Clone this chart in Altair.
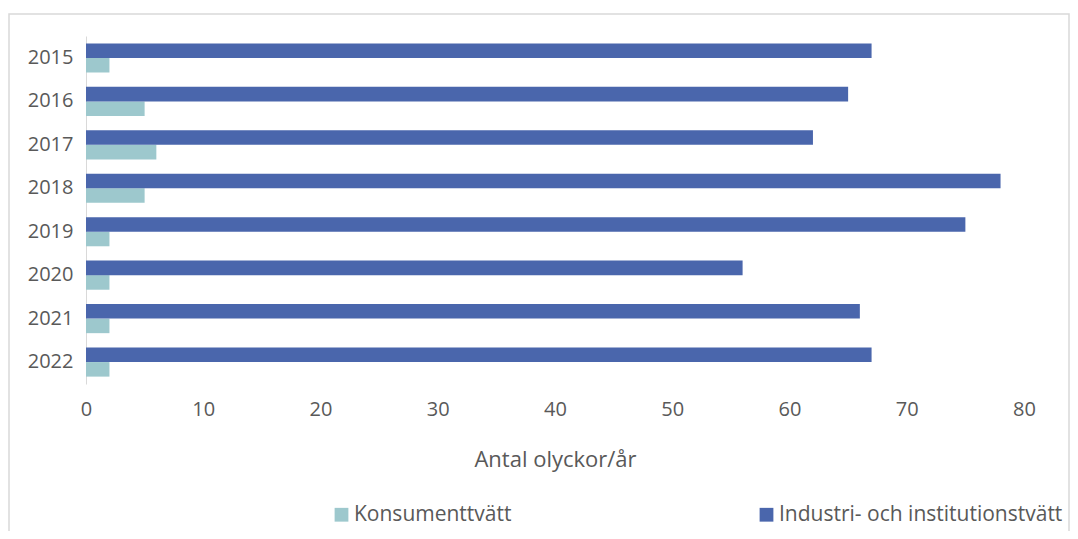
import altair as alt
import pandas as pd

years = ["2015", "2016", "2017", "2018", "2019", "2020", "2021", "2022"]
industri = [67, 65, 62, 78, 75, 56, 66, 67]
konsument = [2, 5, 6, 5, 2, 2, 2, 2]
series = ["Konsumenttvätt", "Industri- och institutionstvätt"]
colors = ["#9DC8CD", "#4A66AC"]

rows = []
for y, k, i in zip(years, konsument, industri):
    rows.append({"year": y, "serie": series[0], "value": k})
    rows.append({"year": y, "serie": series[1], "value": i})
df = pd.DataFrame(rows)

font = "Open Sans"
grey = "#595959"

bars = alt.Chart(df).mark_bar().encode(
    y=alt.Y("year:N", sort=years, title=None,
            scale=alt.Scale(paddingInner=0.33, paddingOuter=0.17),
            axis=alt.Axis(domainColor="#d9d9d9", domainWidth=1, ticks=False,
                          labelFontSize=20, labelColor=grey, labelFont=font,
                          labelPadding=13)),
    yOffset=alt.YOffset("serie:N", scale=alt.Scale(domain=[series[1], series[0]])),
    x=alt.X("value:Q", title="Antal olyckor/år",
            scale=alt.Scale(domain=[0, 80], nice=False),
            axis=alt.Axis(values=list(range(0, 81, 10)), domain=False, ticks=False,
                          grid=False, labelFlush=False, labelFontSize=20, labelColor=grey,
                          labelFont=font, labelPadding=15, titleFontSize=22,
                          titleFontWeight="normal", titleColor=grey, titleFont=font,
                          titlePadding=30)),
    color=alt.Color("serie:N", scale=alt.Scale(domain=series, range=colors),
                    legend=alt.Legend(title=None, orient="none", direction="horizontal",
                                      legendX=245, legendY=468, symbolType="square",
                                      symbolSize=190, symbolStrokeWidth=0,
                                      labelFontSize=21, labelColor=grey, labelFont=font,
                                      labelLimit=500, columnPadding=244, labelOffset=2)),
)

frame = alt.Chart(pd.DataFrame({"f": [0]})).mark_rect(
    fill=None, stroke="#d9d9d9", strokeWidth=1.5
).encode(
    x=alt.value(-77), x2=alt.value(983), y=alt.value(-22), y2=alt.value(600)
)

chart = alt.layer(frame, bars).properties(
    width=938, height=348,
    autosize=alt.AutoSizeParams(type="none"),
    padding={"left": 78, "top": 28, "right": 46, "bottom": 147},
).configure_view(stroke=None)

chart.save("out.html", embed_options={"renderer": "svg", "actions": False})
